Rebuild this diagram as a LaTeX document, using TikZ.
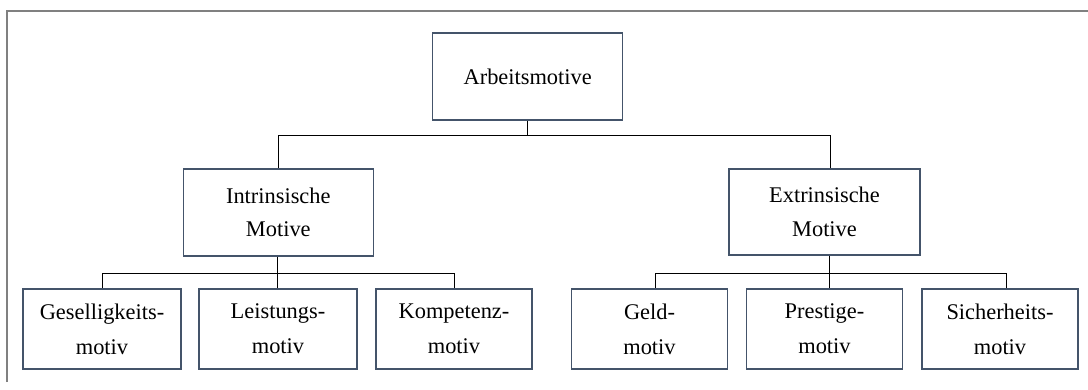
\documentclass[tikz,border=0pt]{standalone}
\usepackage{fontspec}
\setmainfont{Liberation Serif}
\definecolor{boxc}{HTML}{44546A}
\definecolor{framec}{HTML}{808080}
\begin{document}
\begin{tikzpicture}[x=1pt,y=-1pt,
  box/.style={draw=boxc,line width=1.5pt,inner sep=0pt,align=center,
    font=\fontsize{22.4}{33.5}\selectfont},
  bigbox/.style={box,minimum width=190pt,minimum height=87pt},
  smallbox/.style={box,minimum width=156pt,minimum height=80pt,
    font=\fontsize{22.4}{35}\selectfont},
  conn/.style={draw=black,line width=1pt}]
\useasboundingbox (0,0) rectangle (1088,390);
\draw[framec,line width=2pt] (7,382) -- (7,11) -- (1090,11);

\node[bigbox] (top) at (527.7,76.7) {Arbeitsmotive};
\node[bigbox] (intr) at (278.3,212.5) {Intrinsische\\Motive};
\node[bigbox,minimum width=191pt,minimum height=86pt] (extr) at (824.5,212) {Extrinsische\\Motive};

\node[smallbox,minimum width=158pt] (g1) at (102,329) {Geselligkeits-\\motiv};
\node[smallbox,minimum width=158pt] (g2) at (278,329) {Leistungs-\\motiv};
\node[smallbox] (g3) at (454,329) {Kompetenz-\\motiv};
\node[smallbox] (r1) at (649.5,329) {Geld-\\motiv};
\node[smallbox] (r2) at (824.5,329) {Prestige-\\motiv};
\node[smallbox] (r3) at (1000,329) {Sicherheits-\\motiv};

\coordinate (j0) at (527.7,136);
\coordinate (jl) at (277,273.3);
\coordinate (jr) at (829,273.3);

\draw[conn] (top.south) -- (j0);
\draw[conn] (intr.north) |- (j0);
\draw[conn] ([xshift=6pt]extr.north) |- (j0);

\draw[conn] ([xshift=-1.3pt]intr.south) -- (jl);
\draw[conn] (g1.north) |- (jl);
\draw[conn] ([xshift=-1pt]g2.north) -- (jl);
\draw[conn] (g3.north) |- (jl);

\draw[conn] ([xshift=4.5pt]extr.south) -- (jr);
\draw[conn] ([xshift=5.5pt]r1.north) |- (jr);
\draw[conn] ([xshift=4.5pt]r2.north) -- (jr);
\draw[conn] ([xshift=6.7pt]r3.north) |- (jr);
\end{tikzpicture}
\end{document}
